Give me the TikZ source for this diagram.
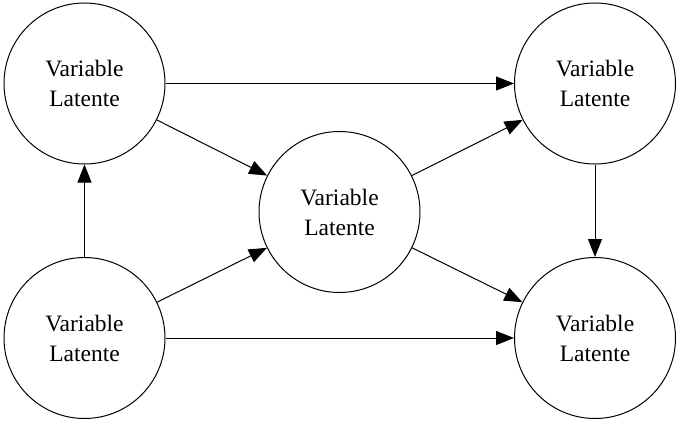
\documentclass[tikz,border=0pt]{standalone}
\usepackage{fontspec}
\newfontfamily\timesfont{Liberation Serif}
\usetikzlibrary{arrows.meta}
\begin{document}
\begin{tikzpicture}[x=1pt,y=-1pt,
  lat/.style={draw,circle,line width=1pt,minimum size=161pt,inner sep=0pt,align=center,
    font=\timesfont\fontsize{23.5pt}{30pt}\selectfont},
  conn/.style={line width=1pt,-{Triangle[length=18pt,width=14pt]}}]
\useasboundingbox (0,0) rectangle (677,423);
\node[lat] (tl) at (84.5,83.5) {Variable\\Latente};
\node[lat] (bl) at (84.5,338) {Variable\\Latente};
\node[lat] (m) at (339.5,212) {Variable\\Latente};
\node[lat] (tr) at (595,83.5) {Variable\\Latente};
\node[lat] (br) at (595,338) {Variable\\Latente};
\draw[conn] (tl) -- (tr);
\draw[conn] (tl) -- (m);
\draw[conn] (bl) -- (tl);
\draw[conn] (bl) -- (m);
\draw[conn] (bl) -- (br);
\draw[conn] (m) -- (tr);
\draw[conn] (m) -- (br);
\draw[conn] (tr) -- (br);
\end{tikzpicture}
\end{document}
